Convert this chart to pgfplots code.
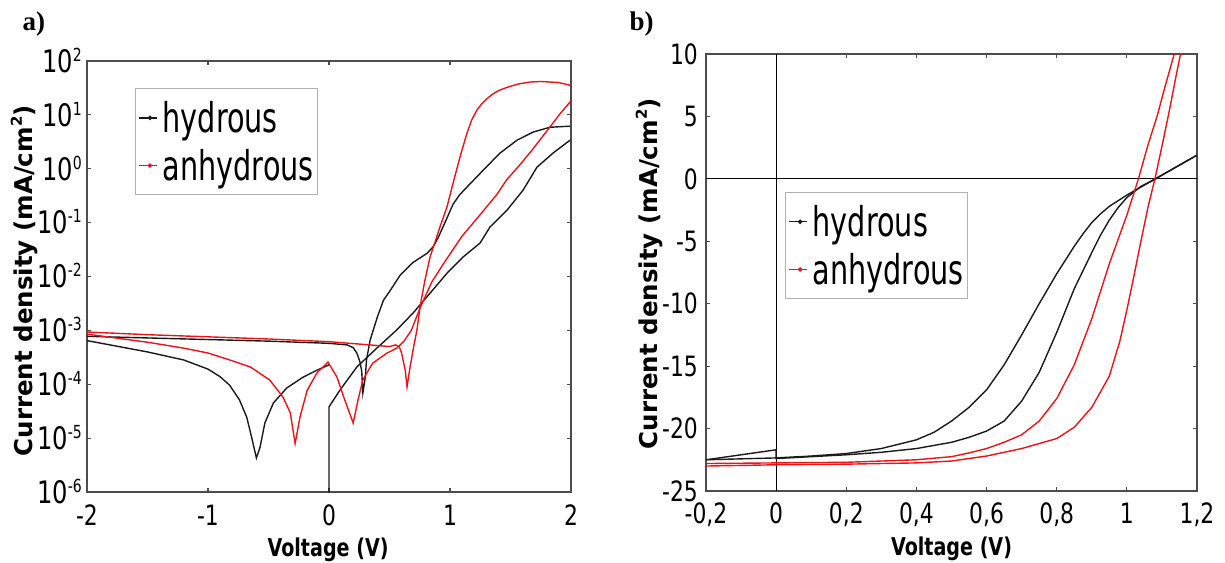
\documentclass[border=0pt]{standalone}
\usepackage{fontspec}
\setmainfont{DejaVu Sans}[FakeStretch=0.78]
\newfontfamily\ylabfont{DejaVu Sans}
\newfontfamily\legfont{DejaVu Sans}[FakeStretch=0.70]
\newfontfamily\panelfont{Liberation Serif}
\usepackage{pgfplots}
\pgfplotsset{compat=1.18}
\definecolor{cred}{RGB}{232,20,26}
\definecolor{cblk}{RGB}{26,26,26}
\newcommand{\dec}[1]{10\raisebox{11pt}[0pt][0pt]{\fontsize{18}{18}\selectfont #1}}
\newcommand{\sq}{\raisebox{0.42em}{\fontsize{15}{15}\selectfont 2}}
\pgfplotsset{
  legend image code/.code={\draw[#1,line width=1.3pt] (0pt,0pt) -- (18pt,0pt); \fill[#1] (11pt,0pt) circle (1.5pt);},
  common/.style={anchor=south west, scale only axis,
    axis line style={black!70,line width=1.6pt},
    tick style={black!70,line width=1.2pt}, tick align=inside, major tick length=4pt,
    legend cell align=left,
    legend style={draw=black!30, line width=0.8pt, fill=white, anchor=north west,
      font=\legfont\fontsize{41}{41}\selectfont, inner xsep=3pt, inner ysep=12pt, row sep=13pt,
      nodes={inner sep=1pt},
      /tikz/every odd column/.append style={column sep=4pt}},
    x label style={font=\bfseries\fontsize{24.5}{24.5}\selectfont, anchor=center},
    y label style={font=\ylabfont\bfseries\fontsize{24.5}{24.5}\selectfont, anchor=center},
  },
  hyd/.style={cblk, line width=1.4pt, mark=none},
  anh/.style={cred, line width=1.4pt, mark=none},
}
\begin{document}
\begin{tikzpicture}
\useasboundingbox (0,0) rectangle (1225pt,562pt);
\node[anchor=base west, font=\panelfont\bfseries\fontsize{27}{27}\selectfont] at (19pt,531pt) {a)};
\node[anchor=base west, font=\panelfont\bfseries\fontsize{27}{27}\selectfont] at (626pt,531pt) {b)};
% ---------------- panel a ----------------
\begin{axis}[common, at={(87pt,70pt)}, width=484pt, height=431pt,
  xmin=-2, xmax=2, ymode=log, ymin=1e-6, ymax=1e2, yminorticks=false,
  xtick={-2,-1,0,1,2}, xticklabels={-2,-1,0,1,2},
  ytick={1e-6,1e-5,1e-4,1e-3,1e-2,1e-1,1e0,1e1,1e2},
  yticklabels={\dec{-6},\dec{-5},\dec{-4},\dec{-3},\dec{-2},\dec{-1},\dec{0},\dec{1},\dec{2}},
  xticklabel style={font=\fontsize{28}{28}\selectfont, inner sep=0pt, yshift=-13pt},
  yticklabel style={font=\fontsize{31}{31}\selectfont, inner sep=0pt, xshift=-5pt},
  xlabel={Voltage (V)}, x label style={at={(axis description cs:0.498,-0.135)}},
  ylabel={Current density (mA/cm\sq)}, y label style={at={(axis description cs:-0.130,0.49)}},
  legend style={at={(0.099,0.937)}},
]
\addplot[hyd] coordinates {(-2,7.76e-4) (-1.5,7.24e-4) (-1,6.76e-4) (-0.5,6.31e-4) (0,5.75e-4) (0.15,5.37e-4) (0.2,4.79e-4) (0.23,3.8e-4) (0.255,2.63e-4) (0.27,1.78e-4) (0.28,6.92e-5) (0.30,1.35e-4) (0.31,2.82e-4) (0.34,6.61e-4) (0.40,1.78e-3) (0.45,3.63e-3) (0.50,5.25e-3) (0.587,1.05e-2) (0.694,1.82e-2) (0.81,2.69e-2) (0.86,3.55e-2) (0.90,5.13e-2) (0.96,0.102) (1.025,0.219) (1.08,0.33) (1.14,0.457) (1.273,0.933) (1.413,1.95) (1.554,3.39) (1.686,4.79) (1.826,5.89) (1.992,6.17)};
\addlegendentry{hydrous}
\addplot[hyd, forget plot] coordinates {(-2,6.46e-4) (-1.5,3.98e-4) (-1.2,2.82e-4) (-1,1.91e-4) (-0.9,1.38e-4) (-0.82,9.55e-5) (-0.74,5.13e-5) (-0.68,2.45e-5) (-0.64,1.05e-5) (-0.6,4.27e-6) (-0.57,6.76e-6) (-0.53,1.91e-5) (-0.46,4.47e-5) (-0.35,8.51e-5) (-0.215,1.35e-4) (-0.1,1.82e-4) (0,2.29e-4)};
\addplot[hyd, forget plot] coordinates {(0,1e-8) (0,3.80e-5) (0.09,7.76e-5) (0.23,2.09e-4) (0.40,4.79e-4) (0.56,1.02e-3) (0.694,2.09e-3) (0.835,4.90e-3) (0.975,1.15e-2) (1.107,2.29e-2) (1.248,4.17e-2) (1.331,8.32e-2) (1.471,0.170) (1.603,0.398) (1.719,1.07) (1.851,1.95) (1.992,3.39)};
\addplot[anh] coordinates {(-2,9.33e-4) (-1.5,8.32e-4) (-1,7.59e-4) (-0.5,6.92e-4) (0,6.17e-4) (0.34,5.37e-4) (0.5,5.01e-4) (0.55,5.37e-4) (0.58,5.01e-4) (0.60,3.80e-4) (0.63,1.82e-4) (0.645,8.91e-5) (0.67,2.09e-4) (0.70,5.01e-4) (0.727,1.02e-3) (0.752,2.69e-3) (0.79,7.94e-3) (0.835,2.29e-2) (0.917,8.32e-2) (0.975,0.195) (1.025,0.537) (1.083,1.66) (1.14,4.57) (1.18,8.1) (1.223,12.3) (1.26,15.8) (1.30,19.5) (1.35,24.0) (1.40,28.2) (1.471,32.4) (1.56,37.2) (1.661,40.7) (1.75,41.7) (1.826,40.7) (1.9,39.8) (1.992,35.5)};
\addlegendentry{anhydrous}
\addplot[anh, forget plot] coordinates {(-2,8.51e-4) (-1.5,6.03e-4) (-1.2,4.68e-4) (-1.0,3.80e-4) (-0.82,2.82e-4) (-0.65,2.09e-4) (-0.49,1.20e-4) (-0.38,5.75e-5) (-0.32,2.95e-5) (-0.28,7.94e-6) (-0.24,2.45e-5) (-0.18,7.76e-5) (-0.10,1.62e-4) (-0.008,2.57e-4) (0.066,1.35e-4) (0.13,5.13e-5) (0.20,1.91e-5) (0.24,5.13e-5) (0.28,1.20e-4) (0.36,2.45e-4) (0.48,3.80e-4) (0.56,4.68e-4) (0.62,6.31e-4) (0.68,1.0e-3) (0.75,2.51e-3) (0.8,4.47e-3) (0.85,7.94e-3) (0.95,1.78e-2) (1.1,5.62e-2) (1.25,0.141) (1.39,0.339) (1.47,0.631) (1.58,1.20) (1.69,2.40) (1.80,5.01) (1.91,10.5) (2.0,18.2)};
\end{axis}
% ---------------- panel b ----------------
\begin{axis}[common, at={(706pt,71pt)}, width=491pt, height=437pt,
  xmin=-0.2, xmax=1.2, ymin=-25, ymax=10,
  xtick={-0.2,0,0.2,0.4,0.6,0.8,1.0,1.2},
  xticklabels={{-0,2},0,{0,2},{0,4},{0,6},{0,8},1,{1,2}},
  ytick={-25,-20,-15,-10,-5,0,5,10},
  yticklabels={-25,-20,-15,-10,-5,0,5,10},
  xticklabel style={font=\fontsize{28}{28}\selectfont, inner sep=0pt, yshift=-12pt},
  yticklabel style={font=\fontsize{28}{28}\selectfont, inner sep=0pt, xshift=-8pt},
  xlabel={Voltage (V)}, x label style={at={(axis description cs:0.50,-0.133)}},
  ylabel={Current density (mA/cm\sq)}, y label style={at={(axis description cs:-0.116,0.497)}},
  legend style={at={(0.161,0.684)}},
]
\addplot[black, line width=1.2pt, forget plot] coordinates {(0,-25) (0,10)};
\addplot[black, line width=1.2pt, forget plot] coordinates {(-0.2,0) (1.2,0)};
\addplot[hyd] coordinates {(-0.2,-22.5) (0,-22.35) (0.1,-22.2) (0.2,-22.0) (0.3,-21.6) (0.4,-20.9) (0.45,-20.3) (0.5,-19.4) (0.55,-18.3) (0.6,-16.9) (0.65,-14.9) (0.7,-12.5) (0.75,-10.0) (0.8,-7.6) (0.85,-5.4) (0.875,-4.4) (0.9,-3.5) (0.925,-2.8) (0.95,-2.2) (1.0,-1.3) (1.05,-0.5) (1.08,0.0) (1.1,0.3) (1.15,1.1) (1.2,1.9)};
\addlegendentry{hydrous}
\addplot[hyd, forget plot] coordinates {(-0.2,-22.5) (-0.1,-22.1) (0,-21.7) (0,-22.4) (0.2,-22.1) (0.3,-21.9) (0.4,-21.6) (0.5,-21.1) (0.55,-20.7) (0.6,-20.2) (0.65,-19.4) (0.7,-17.8) (0.75,-15.5) (0.8,-12.3) (0.85,-8.8) (0.9,-5.9) (0.925,-4.5) (0.95,-3.3) (0.975,-2.3) (1.0,-1.5) (1.04,-0.6) (1.08,-0.05) (1.1,0.3) (1.15,1.1) (1.2,1.9)};
\addplot[anh] coordinates {(-0.2,-22.8) (0,-22.75) (0.2,-22.7) (0.4,-22.5) (0.5,-22.25) (0.55,-21.95) (0.6,-21.6) (0.65,-21.1) (0.7,-20.5) (0.75,-19.4) (0.8,-17.6) (0.85,-14.9) (0.9,-11.2) (0.95,-6.8) (1.0,-2.9) (1.033,0) (1.06,2.7) (1.086,5) (1.11,7.5) (1.135,10) (1.145,11)};
\addlegendentry{anhydrous}
\addplot[anh, forget plot] coordinates {(-0.2,-23.0) (0,-22.9) (0.2,-22.85) (0.4,-22.75) (0.5,-22.6) (0.6,-22.2) (0.7,-21.6) (0.8,-20.8) (0.85,-19.9) (0.9,-18.3) (0.95,-15.8) (0.98,-13.0) (1.0,-10.5) (1.02,-7.8) (1.04,-5.0) (1.06,-2.3) (1.08,0) (1.1,2.6) (1.12,5.3) (1.14,8.2) (1.153,10) (1.16,11)};
\end{axis}
\end{tikzpicture}
\end{document}
